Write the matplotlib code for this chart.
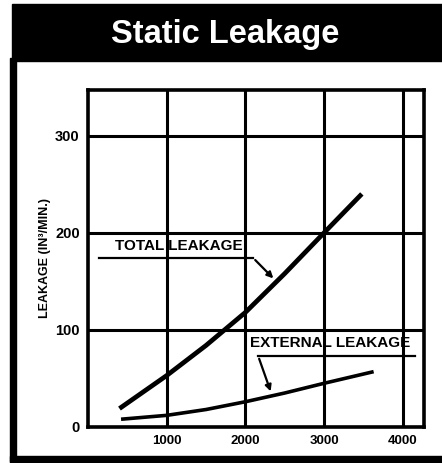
import matplotlib
matplotlib.use('Agg')
import matplotlib.pyplot as plt
from matplotlib.patches import Rectangle
from matplotlib import font_manager

# data (rpm vs leakage in^3/min)
total_rpm = [400, 1000, 1500, 2000, 2500, 3000, 3480]
total_leak = [19, 53, 84, 118, 158, 200, 240]
ext_rpm = [420, 1000, 1500, 2000, 2500, 3000, 3630]
ext_leak = [8, 12, 18, 26, 35, 45, 57]

x_ticks = [1000, 2000, 3000, 4000]
y_ticks = [0, 100, 200, 300]

title = 'Static Leakage'
ylabel = 'LEAKAGE (IN³/MIN.)'
total_label = 'TOTAL LEAKAGE'
ext_label = 'EXTERNAL LEAKAGE'

names = {f.name for f in font_manager.fontManager.ttflist}
narrow = 'Liberation Sans Narrow' if 'Liberation Sans Narrow' in names else 'Liberation Sans'
title_size = 27 if narrow == 'Liberation Sans Narrow' else 23.5
plt.rcParams['font.family'] = ['Liberation Sans', 'DejaVu Sans']

W, H = 442, 463
fig = plt.figure(figsize=(W / 100, H / 100), dpi=100)

def fig_rect(x0, y0, x1, y1):
    # pixel box (top-left origin) -> figure rectangle
    fig.patches.append(Rectangle((x0 / W, 1 - y1 / H), (x1 - x0) / W, (y1 - y0) / H,
                                 transform=fig.transFigure, color='black', zorder=0))

fig_rect(12, 4, 442, 61)    # title bar
fig_rect(10, 58, 16, 462)   # left border
fig_rect(10, 456, 442, 462) # bottom border

fig.text(225 / W, 1 - 34 / H, title, color='white', ha='center', va='center',
         fontsize=title_size, fontweight='bold', family=[narrow, 'DejaVu Sans'])

ax = fig.add_axes([88 / W, 1 - 427 / H, 336 / W, 337 / H])
ax.set_xlim(0, 4270)
ax.set_ylim(0, 347)
ax.set_xticks(x_ticks)
ax.set_yticks(y_ticks)
ax.set_xticklabels([str(v) for v in x_ticks], fontsize=9.5, fontweight='bold')
ax.set_yticklabels([str(v) for v in y_ticks], fontsize=10.5, fontweight='bold')
ax.tick_params(length=0, pad=6)
ax.grid(True, color='black', linewidth=2.2)
for s in ax.spines.values():
    s.set_linewidth(2.6)
ax.set_ylabel(ylabel, fontsize=9, fontweight='bold', labelpad=3)

ax.plot(total_rpm, total_leak, color='black', linewidth=3.4, solid_capstyle='butt', zorder=3)
ax.plot(ext_rpm, ext_leak, color='black', linewidth=2.6, solid_capstyle='butt', zorder=3)

# labels with leader lines
ax.text(338, 186, total_label, fontsize=11, fontweight='bold', va='center', zorder=4)
ax.plot([146, 2100], [174, 174], color='black', linewidth=1.6, zorder=4)
ax.annotate('', xy=(2380, 151), xytext=(2100, 174),
            arrowprops=dict(arrowstyle='-|>', color='black', lw=1.6, mutation_scale=9))

ax.text(2057, 86, ext_label, fontsize=11, fontweight='bold', va='center', zorder=4)
ax.plot([2160, 4160], [73, 73], color='black', linewidth=1.6, zorder=4)
ax.annotate('', xy=(2333, 34), xytext=(2163, 73),
            arrowprops=dict(arrowstyle='-|>', color='black', lw=1.6, mutation_scale=9))

fig.savefig('out.png', dpi=100)
